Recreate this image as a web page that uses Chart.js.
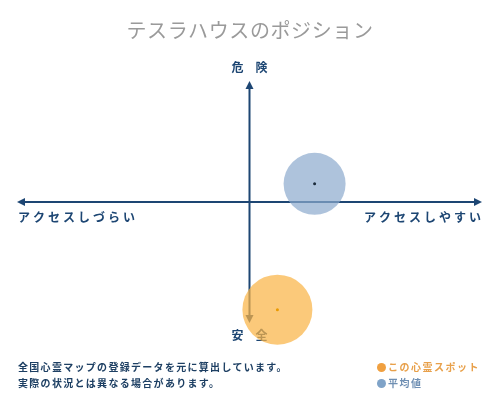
<!DOCTYPE html>
<html>
<head>
<meta charset="utf-8">
<script src="https://cdn.jsdelivr.net/npm/chart.js@4.4.1/dist/chart.umd.min.js"></script>
<style>
  body { margin: 0; background: #fff; font-family: "Noto Sans CJK JP", sans-serif; }
  #wrap { position: relative; width: 500px; height: 400px; overflow: hidden; }
  #chart { position: absolute; left: 0; top: 0; }
  .title { position: absolute; left: 0; width: 500px; top: 15px; text-align: center;
    font-size: 20px; color: #9a9a9a; letter-spacing: 0.6px; }
  .note { position: absolute; left: 18px; top: 359px; font-size: 10px; line-height: 16px;
    color: #1d3f63; font-weight: bold; letter-spacing: 1.3px; }
  .legend { position: absolute; left: 377px; top: 359px; font-size: 10px; line-height: 16px;
    font-weight: bold; letter-spacing: 1.5px; }
  .legend .dot { display: inline-block; width: 9px; height: 9px; border-radius: 50%;
    margin-right: 2px; vertical-align: -1px; }
</style>
</head>
<body>
<div id="wrap">
  <canvas id="chart" width="500" height="400"></canvas>
  <div class="title">テスラハウスのポジション</div>
  <div class="note">全国心霊マップの登録データを元に算出しています。<br>実際の状況とは異なる場合があります。</div>
  <div class="legend">
    <div style="color:#e8a04a"><span class="dot" style="background:#f0a040"></span>この心霊スポット</div>
    <div style="color:#6f8fb3"><span class="dot" style="background:#7fa3c8"></span>平均値</div>
  </div>
</div>
<script>
  // データ
  const seriesNames = ["この心霊スポット", "平均値"];
  const accessValues = [0.12, 0.28];   // アクセス (しづらい -1 〜 しやすい 1)
  const dangerValues = [-0.89, 0.15];  // 危険度 (安全 -1 〜 危険 1)
  const bubbleSizes = [35, 31];
  const axisLabels = { top: "危　険", bottom: "安　全", left: "アクセスしづらい", right: "アクセスしやすい" };

  const navy = "#1d4673";

  // 矢印と軸ラベルを描くプラグイン
  const crossAxes = {
    id: "crossAxes",
    beforeDatasetsDraw(chart) {
      const ctx = chart.ctx;
      const x = chart.scales.x, y = chart.scales.y;
      const x0 = x.getPixelForValue(0), y0 = y.getPixelForValue(0);
      const left = x.getPixelForValue(-1), right = x.getPixelForValue(1);
      const top = y.getPixelForValue(1), bottom = y.getPixelForValue(-1);
      ctx.save();
      ctx.strokeStyle = navy;
      ctx.fillStyle = navy;
      ctx.lineWidth = 2;
      ctx.beginPath();
      ctx.moveTo(left + 4, y0); ctx.lineTo(right - 4, y0);
      ctx.moveTo(x0, top + 4); ctx.lineTo(x0, bottom - 4);
      ctx.stroke();
      const head = (px, py, dx, dy) => {
        ctx.beginPath();
        ctx.moveTo(px, py);
        ctx.lineTo(px - dx * 8 + dy * 4, py - dy * 8 + dx * 4);
        ctx.lineTo(px - dx * 8 - dy * 4, py - dy * 8 - dx * 4);
        ctx.closePath();
        ctx.fill();
      };
      head(right, y0, 1, 0);
      head(left, y0, -1, 0);
      head(x0, top, 0, -1);
      head(x0, bottom, 0, 1);

      ctx.font = "bold 12px 'Noto Sans CJK JP'";
      ctx.textBaseline = "middle";
      ctx.textAlign = "center";
      ctx.fillText(axisLabels.top, x0, top - 14);
      ctx.fillText(axisLabels.bottom, x0, bottom + 12);
      ctx.font = "bold 12px 'Noto Sans CJK JP'";
      ctx.letterSpacing = "3px";
      ctx.textAlign = "left";
      ctx.fillText(axisLabels.left, left + 1, y0 + 15);
      ctx.textAlign = "right";
      ctx.fillText(axisLabels.right, right + 2, y0 + 15);
      ctx.restore();
    }
  };

  new Chart(document.getElementById("chart"), {
    type: "bubble",
    data: {
      datasets: [
        {
          label: seriesNames[1],
          data: [{ x: accessValues[1], y: dangerValues[1], r: bubbleSizes[1] }],
          backgroundColor: "rgba(140,170,205,0.7)",
          borderWidth: 0,
          clip: false,
          order: 1
        },
        {
          label: seriesNames[0],
          data: [{ x: accessValues[0], y: dangerValues[0], r: bubbleSizes[0] }],
          backgroundColor: "rgba(250,180,70,0.72)",
          borderWidth: 0,
          clip: false,
          order: 1
        },
        {
          type: "scatter",
          label: "center",
          data: seriesNames.map((n, i) => ({ x: accessValues[i], y: dangerValues[i] })),
          pointRadius: 1.5,
          pointBackgroundColor: ["#eb9a00", "#1a2a3a"],
          pointBorderWidth: 0,
          clip: false,
          order: 0
        }
      ]
    },
    options: {
      responsive: false,
      animation: false,
      layout: { autoPadding: false, padding: { left: 17, right: 18, top: 81, bottom: 77 } },
      scales: {
        x: { type: "linear", min: -1, max: 1, display: false },
        y: { type: "linear", min: -1, max: 1, display: false }
      },
      plugins: {
        legend: { display: false },
        tooltip: { enabled: false }
      }
    },
    plugins: [crossAxes]
  });
</script>
</body>
</html>
